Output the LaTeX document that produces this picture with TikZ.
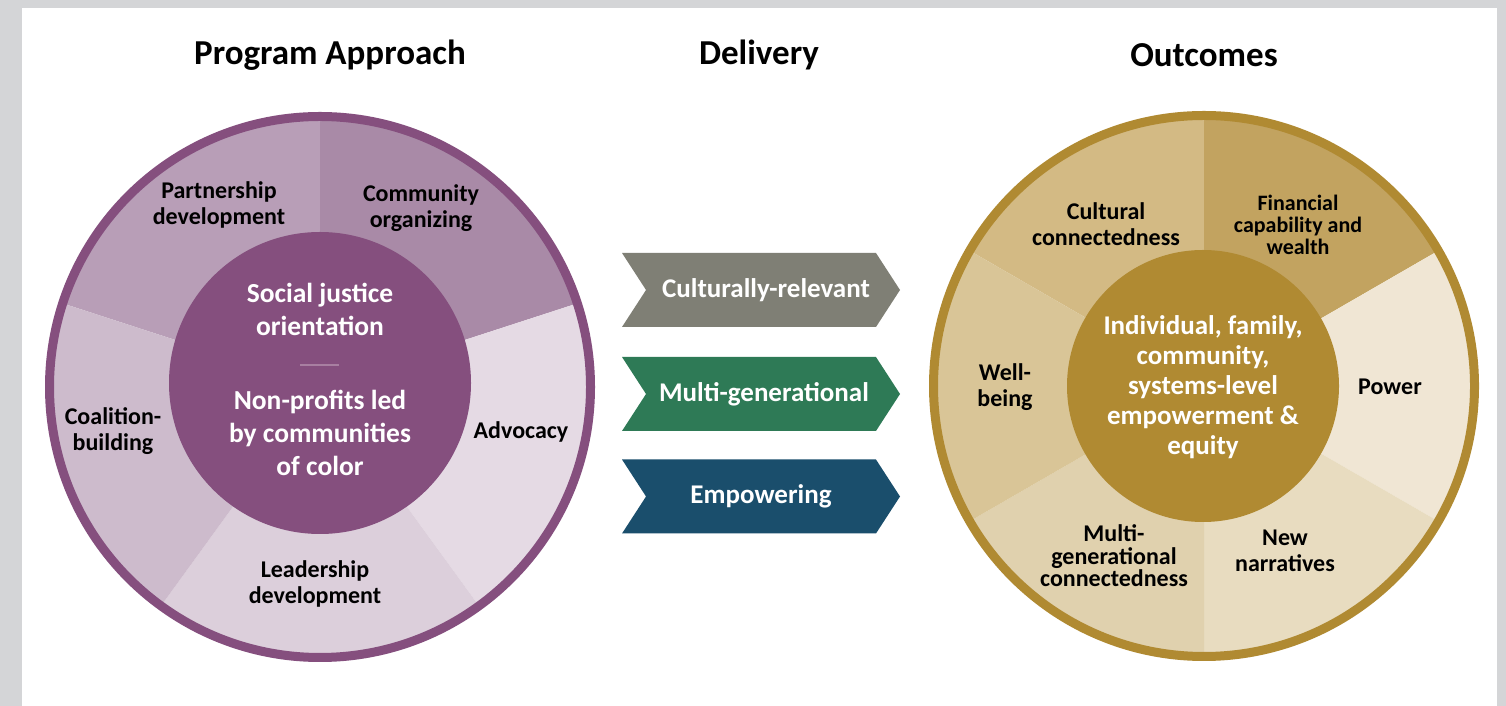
\documentclass[tikz,border=0pt]{standalone}
\usepackage{fontspec}
\setmainfont{Carlito}
\usetikzlibrary{shapes.symbols}

\definecolor{framegray}{HTML}{D4D5D7}
\definecolor{purp}{HTML}{854F7E}
\definecolor{purpline}{HTML}{A87FA1}
\definecolor{pPart}{HTML}{B89EB7}
\definecolor{pComm}{HTML}{A98AA7}
\definecolor{pAdv}{HTML}{E5DAE4}
\definecolor{pLead}{HTML}{DCCFDB}
\definecolor{pCoal}{HTML}{CDBBCC}
\definecolor{gold}{HTML}{B08A32}
\definecolor{gCult}{HTML}{D3BA84}
\definecolor{gFin}{HTML}{C2A360}
\definecolor{gPow}{HTML}{F0E6D4}
\definecolor{gNew}{HTML}{E8DCC0}
\definecolor{gMulti}{HTML}{E0D1AE}
\definecolor{gWell}{HTML}{D9C597}
\definecolor{chGray}{HTML}{7F7F75}
\definecolor{chGreen}{HTML}{2E7A56}
\definecolor{chBlue}{HTML}{1A4E6C}

\begin{document}
\begin{tikzpicture}[
		x=1pt, y=1pt,
		every node/.style={font=\bfseries},
		heading/.style={font=\bfseries\fontsize{35}{40}\selectfont},
		seglabel/.style={align=center, font=\bfseries\fontsize{24}{26}\selectfont},
		hublabel/.style={align=center, text=white, font=\bfseries\fontsize{27.5}{33}\selectfont},
		chevron/.style={signal, signal from=west, signal to=east, signal pointer angle=114,
			minimum width=278, minimum height=74, inner sep=0pt, text=white,
			font=\bfseries\fontsize{27}{30}\selectfont}
		]
	
	% Frame
	\fill[framegray] (0, 0) rectangle (1506, 706);
	\fill[white] (22, 0) rectangle (1497, 698);
	
	% Headings
	\node[heading] (approach) at (330, 651) {Program Approach};
	\node[heading] (delivery) at (759, 651) {Delivery};
	\node[heading] (outcomes) at (1204, 651) {Outcomes};
	
	% Program approach wheel
	\coordinate (L) at (320, 319);
	\foreach \a/\b/\c in {90/162/pPart, 18/90/pComm, -54/18/pAdv, -126/-54/pLead, -198/-126/pCoal}{
		\fill[\c] (L) -- ++(\a:271) arc[start angle=\a, end angle=\b, radius=271] -- cycle;
	}
	\draw[purp, line width=9] (L) circle[radius=270.5];
	\fill[purp] (320, 323) circle[radius=151];
	
	\node[seglabel] (partner) at (219, 501) {Partnership\\development};
	\node[seglabel] (organize) at (421, 498) {Community\\organizing};
	\node[seglabel] (advocacy) at (521, 274) {Advocacy};
	\node[seglabel] (leader) at (315, 122) {Leadership\\development};
	\node[seglabel] (coalition) at (113, 275) {Coalition-\\building};
	
	\node[hublabel] (justice) at (320, 397) {Social justice\\orientation};
	\draw[purpline, line width=2] (300, 341) -- (339, 341);
	\node[hublabel] (nonprofit) at (320, 273) {Non-profits led\\by communities\\of color};
	
	% Delivery chevrons
	\node[chevron, fill=chGray] (relevant) at (761, 416) {\hspace{10pt}Culturally-relevant};
	\node[chevron, fill=chGreen] (multigen) at (761, 312) {\hspace{6pt}Multi-generational};
	\node[chevron, fill=chBlue] (empower) at (761, 209.5) {Empowering};
	
	% Outcomes wheel
	\coordinate (R) at (1204, 320);
	\foreach \a/\b/\c in {90/150/gCult, 30/90/gFin, -30/30/gPow, -90/-30/gNew, -150/-90/gMulti, -210/-150/gWell}{
		\fill[\c] (R) -- ++(\a:271) arc[start angle=\a, end angle=\b, radius=271] -- cycle;
	}
	\draw[gold, line width=9] (R) circle[radius=270.5];
	\fill[gold] (1203, 320) circle[radius=136];
	
	\node[seglabel] (cultural) at (1106, 482) {Cultural\\connectedness};
	\node[seglabel, font=\bfseries\fontsize{22}{22}\selectfont] (financial) at (1298, 481) {Financial\\capability and\\wealth};
	\node[seglabel] (power) at (1390, 319) {Power};
	\node[seglabel] (narratives) at (1285, 155) {New\\narratives};
	\node[seglabel, font=\bfseries\fontsize{24}{22.5}\selectfont] (connected) at (1114, 150) {Multi-\\generational\\connectedness};
	\node[seglabel] (wellbeing) at (1005, 319) {Well-\\being};
	
	\node[hublabel, font=\bfseries\fontsize{27}{30}\selectfont] (equity) at (1203, 319) {Individual, family,\\community,\\systems-level\\empowerment \&\\equity};
	
\end{tikzpicture}
\end{document}
